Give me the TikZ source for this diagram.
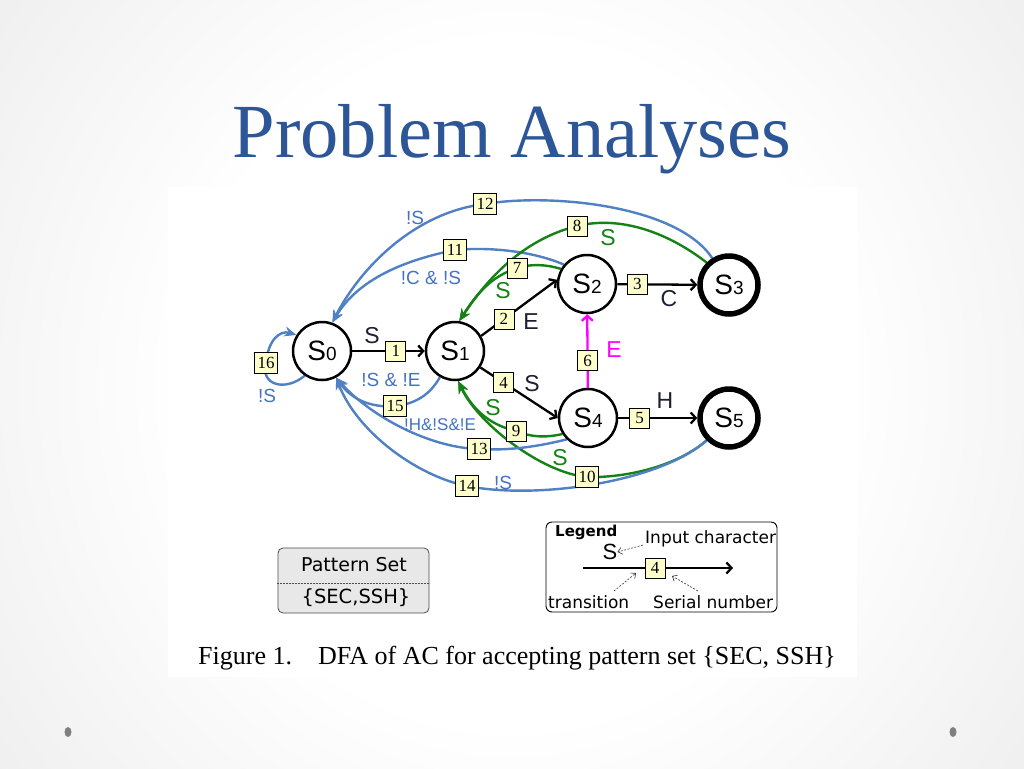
\documentclass[tikz,border=0pt]{standalone}
\usepackage{fontspec}
\setmainfont{Liberation Serif}
\newfontfamily\arialf{Liberation Sans}
\newfontfamily\legf{DejaVu Sans}
\usetikzlibrary{arrows.meta}
\pgfdeclarelayer{bg}
\pgfdeclarelayer{edges}
\pgfsetlayers{bg,edges,main}
\pgfdeclareradialshading{slidebg}{\pgfpoint{0bp}{0bp}}{color(0bp)=(white); color(16bp)=(white); color(50bp)=(black!14); color(72bp)=(black!20)}
\definecolor{titleblue}{RGB}{44,86,151}
\definecolor{edgeblue}{RGB}{79,129,196}
\definecolor{lblblue}{RGB}{70,114,196}
\definecolor{edgegreen}{RGB}{20,130,20}
\definecolor{boxyellow}{RGB}{255,255,204}
\definecolor{lblcol}{RGB}{28,30,52}
\definecolor{psgray}{RGB}{232,232,232}
\definecolor{dotgray}{RGB}{128,128,128}
\definecolor{magedgecol}{RGB}{255,0,255}
\newcommand\stlab[1]{{\fontsize{28}{28}\selectfont S}{\fontsize{19}{19}\selectfont #1}}
\begin{document}
\begin{tikzpicture}[x=1pt,y=-1pt,
  state/.style={circle,draw=black,line width=2.5pt,minimum size=58pt,inner sep=0pt,fill=white,font=\arialf},
  accept/.style={state,line width=5.5pt},
  serial/.style={draw=black,line width=0.7pt,fill=boxyellow,inner sep=0pt,minimum width=20pt,minimum height=20pt,font=\fontsize{17}{17}\selectfont},
  serialw/.style={serial,minimum width=23pt,minimum height=21pt},
  blk/.style={line width=2.3pt,draw=black,-{Straight Barb[length=5pt,width=11pt]}},
  magedge/.style={line width=2.3pt,draw=magedgecol,-{Straight Barb[length=5pt,width=11pt]}},
  blu/.style={line width=2.4pt,draw=edgeblue,-{Stealth[length=12pt,width=10pt]}},
  grn/.style={line width=2.4pt,draw=edgegreen,-{Stealth[length=12pt,width=10pt]}},
  lbl/.style={inner sep=0pt,text=lblcol,font=\arialf\fontsize{23}{23}\selectfont},
  bl/.style={inner sep=0pt,text=lblblue,font=\arialf\fontsize{19}{19}\selectfont},
  gl/.style={inner sep=0pt,text=edgegreen,font=\arialf\fontsize{23}{23}\selectfont},
  legtxt/.style={inner sep=0pt,font=\legf\fontsize{17}{17}\selectfont},
  dasharr/.style={line width=0.6pt,draw=black!80,dash pattern=on 2pt off 1.5pt,-{Straight Barb[length=4pt,width=7pt]}},
  titlefont/.style={inner sep=0pt,anchor=base,font=\fontsize{76.5}{76.5}\selectfont}
]
\useasboundingbox (0,0) rectangle (1024,768);
\begin{pgfonlayer}{bg}
  \begin{scope}
    \clip (0,0) rectangle (1024,768);
    \shade[shading=slidebg] (0,-150) rectangle (1024,918);
  \end{scope}
  \fill[white] (168,187) rectangle (857,677);
  \fill[dotgray] (68,732) ellipse [x radius=3.5pt,y radius=5pt];
  \fill[dotgray] (953,732) ellipse [x radius=3.5pt,y radius=5pt];
\end{pgfonlayer}

% title
\node[titlefont,text=titleblue] (title) at (512,157) {Problem Analyses};

% states
\node[state] (s0) at (322,351) {\stlab{0}};
\node[state] (s1) at (455,351) {\stlab{1}};
\node[state] (s2) at (587,284) {\stlab{2}};
\node[accept] (s3) at (729,285) {\stlab{3}};
\node[state] (s4) at (588,418) {\stlab{4}};
\node[accept] (s5) at (729,418) {\stlab{5}};

% serial boxes on curved transitions
\node[serial] (b7) at (517,268) {7};
\node[serial] (b8) at (577,226) {8};
\node[serial] (b9) at (516,431) {9};
\node[serialw] (b10) at (587,477) {10};
\node[serialw] (b11) at (455,250) {11};
\node[serialw] (b12) at (485,204) {12};
\node[serialw] (b13) at (479,449) {13};
\node[serialw] (b14) at (467,486) {14};
\node[serialw] (b15) at (395,406) {15};
\node[serialw] (b16) at (266,363) {16};

\begin{pgfonlayer}{edges}
\draw[blu] (s3.122) .. controls (677,205) and (550,193) .. (b12.center) .. controls (415,212) and (360,268) .. (s0.70);
\draw[blu] (s2.140) .. controls (530,250) and (485,247) .. (b11.center) .. controls (405,260) and (358,279) .. (s0.70);
\draw[grn] (s3.135) .. controls (670,234) and (622,215) .. (b8.center) .. controls (517,241) and (482,287) .. (s1.82);
\draw[grn] (s2.150) .. controls (545,264) and (530,264) .. (b7.center) .. controls (490,277) and (476,295) .. (s1.82);
\draw[grn] (s4.212) .. controls (545,438) and (530,437) .. (b9.center) .. controls (490,425) and (473,410) .. (s1.-84);
\draw[grn] (s5.225) .. controls (677,466) and (627,478) .. (b10.center) .. controls (542,473) and (478,424) .. (s1.-84);
\draw[blu] (s4.225) .. controls (540,446) and (510,451) .. (b13.center) .. controls (430,448) and (370,416) .. (s0.-62);
\draw[blu] (s5.225) .. controls (660,482) and (537,500) .. (b14.center) .. controls (417,476) and (357,432) .. (s0.-62);
\draw[blu] (s1.240) .. controls (430,395) and (415,404) .. (b15.center) .. controls (372,408) and (352,400) .. (s0.-62);
\draw[blu] (s0.235) .. controls (285,392) and (260,385) .. (b16.center) .. controls (268,340) and (280,330) .. (s0.148);
\end{pgfonlayer}

% straight transitions
\draw[blk] (s0) -- node[serial,pos=0.6] (b1) {1} (s1);
\draw[blk] (s1.30) -- node[serial,pos=0.3] (b2) {2} (s2.172);
\draw[blk] (s2) -- node[serial,pos=0.25] (b3) {3} (s3);
\draw[blk] (s1.-33) -- node[serial,pos=0.3] (b4) {4} (s4.west);
\draw[blk] (s4) -- node[serial,pos=0.27] (b5) {5} (s5);
\draw[magedge] (s4) -- node[serial,pos=0.37] (b6) {6} (s2);

% labels
\node[lbl] (l1) at (372,336) {S};
\node[lbl] (l2) at (531,322) {E};
\node[lbl] (l3) at (669,299) {C};
\node[lbl] (l4) at (532,384) {S};
\node[lbl] (l5) at (665,401) {H};
\node[lbl,text=magedgecol] (l6) at (614,350) {E};
\node[bl] (l12) at (415,218) {!S};
\node[bl] (l11) at (431,278) {!C \& !S};
\node[gl] (l8) at (608,238) {S};
\node[gl] (l7) at (503,291) {S};
\node[gl] (l9) at (493,408) {S};
\node[gl] (l10) at (560,458) {S};
\node[bl] (l15) at (391,380) {!S \& !E};
\node[bl,font=\arialf\fontsize{17}{17}\selectfont] (l13) at (440,425) {!H\&!S\&!E};
\node[bl] (l14) at (503,483) {!S};
\node[bl] (l16) at (267,396) {!S};

% pattern set
\node[draw=black!70,line width=0.8pt,rounded corners=5pt,fill=psgray,minimum width=151pt,minimum height=65pt,inner sep=0pt] (ps) at (353.5,580.5) {};
\draw[black!70,dash pattern=on 2pt off 1pt,line width=0.6pt] (277,583) -- (430,583);
\node[inner sep=0pt,font=\legf\fontsize{19}{19}\selectfont] (pst) at (354,565) {Pattern Set};
\node[inner sep=0pt,font=\legf\fontsize{19.5}{19.5}\selectfont] (pss) at (356,598) {\{SEC,SSH\}};

% legend
\node[draw=black,line width=0.9pt,rounded corners=6pt,fill=white,minimum width=231pt,minimum height=90pt,inner sep=0pt] (legend) at (661.5,567) {};
\node[inner sep=0pt,anchor=base west,font=\legf\bfseries\fontsize{15}{15}\selectfont] (lgt) at (555,536) {Legend};
\coordinate (la) at (583,568);
\coordinate (lb) at (733,568);
\draw[blk] (la) -- node[serial,pos=0.48] (lbox) {4} (lb);
\node[lbl,text=black,font=\arialf\fontsize{22}{22}\selectfont] (lS) at (610,552) {S};
\node[legtxt,anchor=base west] (lin) at (645,543) {Input character};
\node[legtxt,anchor=base west] (ltr) at (548,608) {transition};
\node[legtxt,anchor=base west] (lsn) at (653,608) {Serial number};
\coordinate (da1) at (643,545);
\coordinate (da2) at (614,591);
\coordinate (da3) at (636,573);
\coordinate (da4) at (698,591);
\coordinate (da5) at (672,576);
\draw[dasharr] (da1) -- (lS.east);
\draw[dasharr] (da2) -- (da3);
\draw[dasharr] (da4) -- (da5);

% caption
\node[inner sep=0pt,anchor=base west,font=\fontsize{26}{26}\selectfont] (cap) at (198,664) {Figure 1.\hspace{26pt}DFA of AC for accepting pattern set \{SEC, SSH\}};
\end{tikzpicture}
\end{document}
